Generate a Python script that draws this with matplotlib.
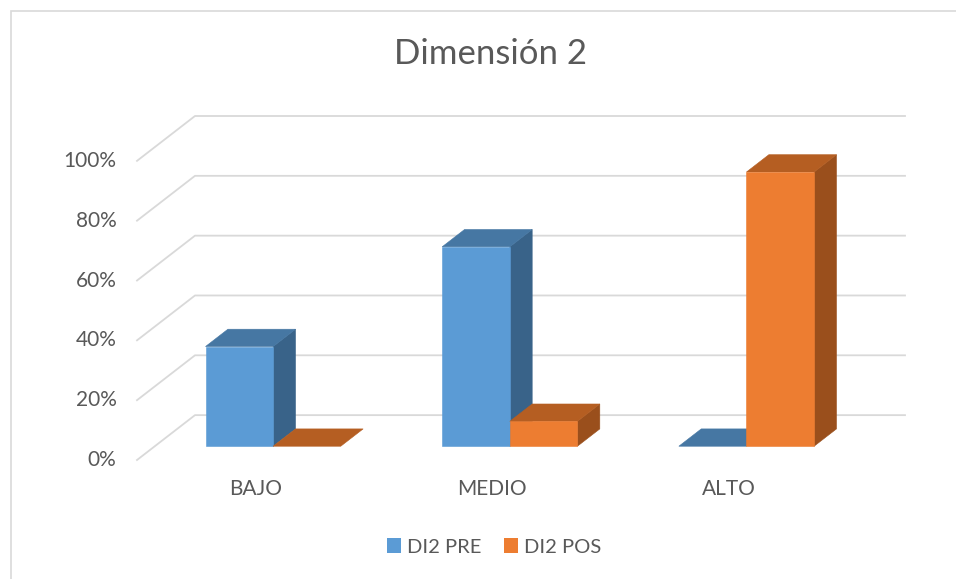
import matplotlib
matplotlib.use('Agg')
import matplotlib.pyplot as plt
from matplotlib.patches import Polygon, Rectangle, Patch

# chart data
categories = ['BAJO', 'MEDIO', 'ALTO']
series_names = ['DI2 PRE', 'DI2 POS']
pre_values = [33.33, 66.67, 0.0]
pos_values = [0.0, 8.33, 91.67]
y_ticks = [0, 20, 40, 60, 80, 100]
title = 'Dimensión 2'

# face colours: front, top, side
pre_colors = ('#5b9bd5', '#4677a3', '#396389')
pos_colors = ('#ed7d31', '#b55e22', '#9a4f1c')

plt.rcParams['font.family'] = ['Lato', 'DejaVu Sans']
text_color = '#595959'
grid_color = '#d9d9d9'

W, H = 956, 579
fig = plt.figure(figsize=(W / 100, H / 100), dpi=100)

# oblique depth of the floor, in data units
DX, DY = 0.245, 15.0
ncat = len(categories)

ax = fig.add_axes([137 / W, (H - 460) / H, (905 - 137) / W, (460 - 116) / H])
ax.set_xlim(0, ncat + DX)
ax.set_ylim(0, 100 + DY)
ax.axis('off')


def proj(x, y, z):
    return (x + z * DX, y + z * DY)


# gridlines: short diagonal on the side wall, then flat along the back wall
for t in y_ticks:
    pts = [proj(0, t, 0), proj(0, t, 1), proj(ncat, t, 1)]
    ax.plot([p[0] for p in pts], [p[1] for p in pts], color=grid_color,
            lw=1.3, clip_on=False, zorder=1)
    ax.text(-0.087, t, f'{t}%', ha='right', va='center', fontsize=15,
            color=text_color)

# 3d columns
bw = 1 / 3.5          # bar width with 150% gap
z0, z1 = 0.307, 0.693  # bar depth range


def face(pts, color):
    ax.add_patch(Polygon([proj(*p) for p in pts], closed=True, fc=color,
                         ec=color, lw=0.4, clip_on=False, zorder=2))


for i in range(ncat):
    for j, (vals, cols) in enumerate([(pre_values, pre_colors),
                                      (pos_values, pos_colors)]):
        v = vals[i]
        x0 = i + 0.5 - bw + j * bw
        x1 = x0 + bw
        if v > 0:
            face([(x1, 0, z0), (x1, 0, z1), (x1, v, z1), (x1, v, z0)], cols[2])
        face([(x0, v, z0), (x1, v, z0), (x1, v, z1), (x0, v, z1)], cols[1])
        if v > 0:
            face([(x0, 0, z0), (x1, 0, z0), (x1, v, z0), (x0, v, z0)], cols[0])

for i, c in enumerate(categories):
    ax.text(i + 0.5, -9.7, c, ha='center', va='center', fontsize=15,
            color=text_color)

fig.text(490 / W, 1 - 54 / H, title, ha='center', va='center', fontsize=25,
         color=text_color)

handles = [Patch(fc=pre_colors[0], ec='none'), Patch(fc=pos_colors[0], ec='none')]
fig.legend(handles, series_names, loc='center', bbox_to_anchor=(494 / W, 1 - 547 / H),
           ncol=2, frameon=False, fontsize=14.5, handlelength=0.7, handleheight=0.7,
           handletextpad=0.3, columnspacing=1.1, labelcolor=text_color)

# chart border
fig.add_artist(Rectangle((10.5 / W, -0.1), 1.2, 1.1 - 10.5 / H, transform=fig.transFigure,
                         fill=False, ec=grid_color, lw=1.2))

fig.savefig('out.png', dpi=100)
